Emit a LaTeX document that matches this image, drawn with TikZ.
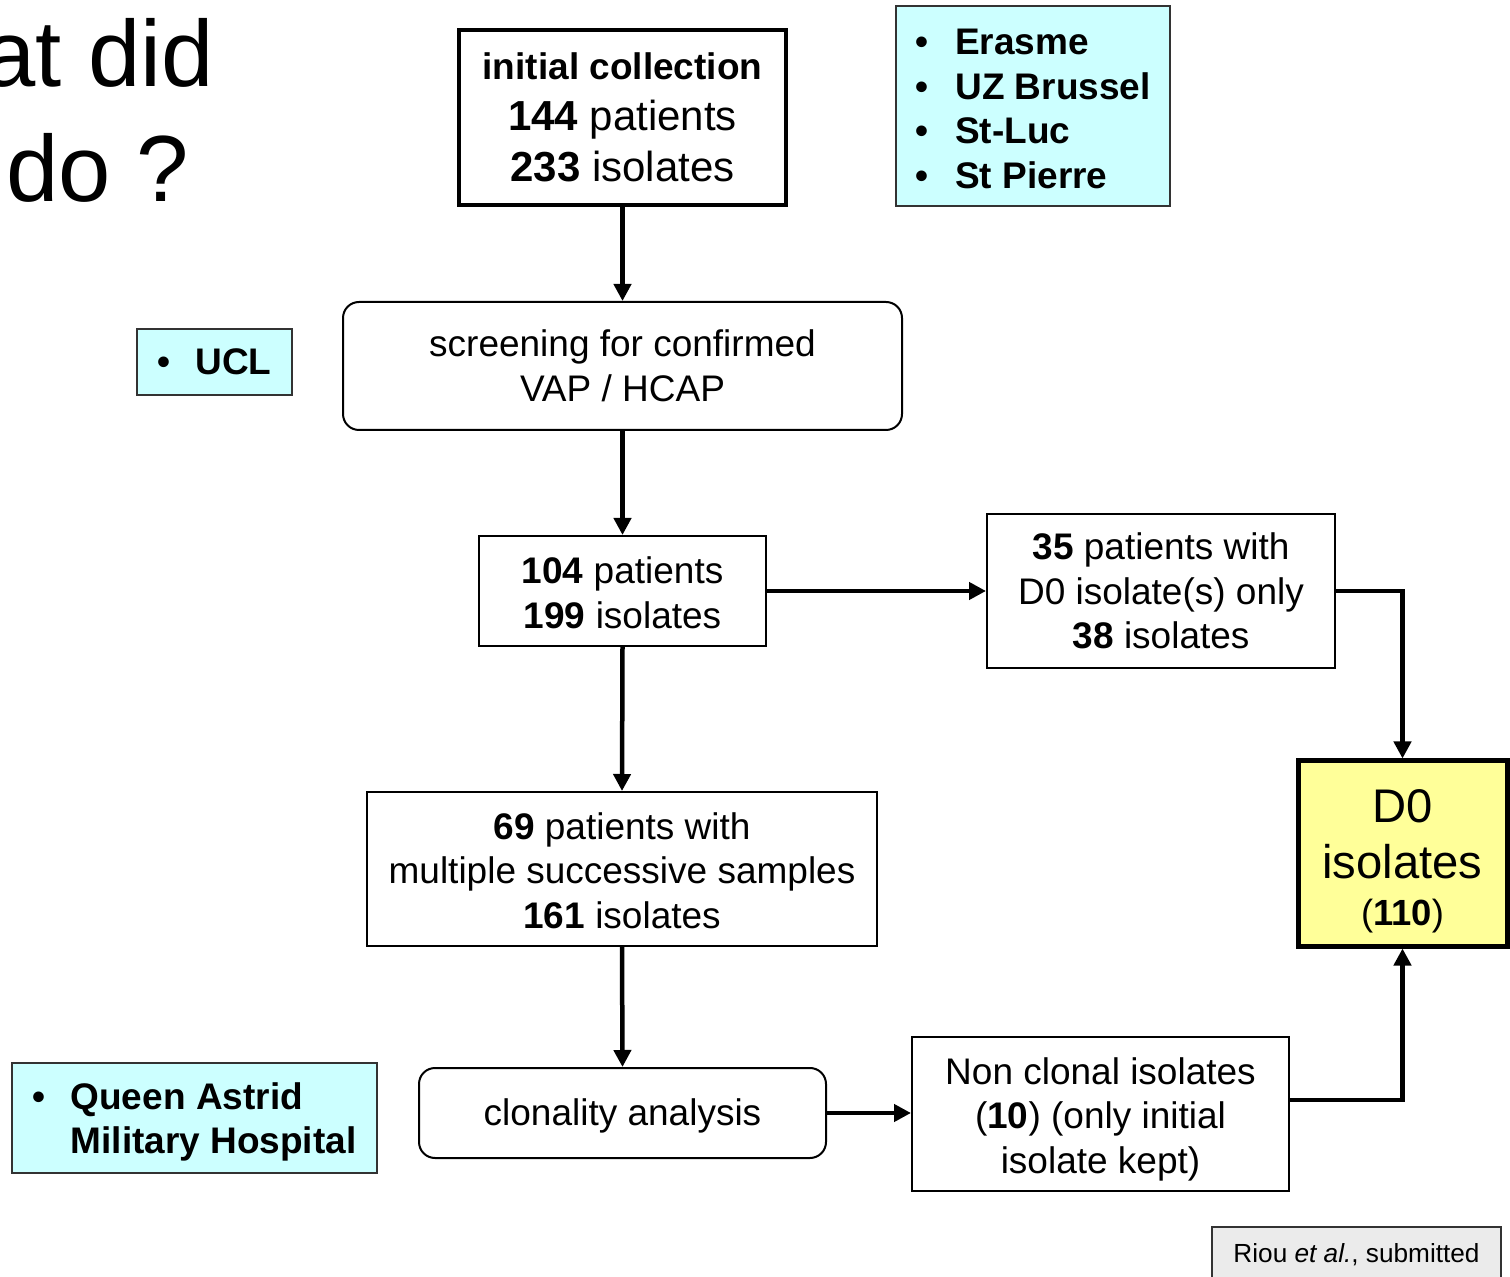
\documentclass[tikz,border=0pt]{standalone}
\usepackage{fontspec}
\setmainfont{Liberation Sans}
\usetikzlibrary{arrows.meta}
\definecolor{cyanfill}{HTML}{CCFFFF}
\definecolor{yellowfill}{HTML}{FFFF99}
\definecolor{greyfill}{HTML}{EBEBEB}
\definecolor{edgegrey}{HTML}{333333}
\begin{document}
\begin{tikzpicture}[x=0.5pt,y=-0.5pt,
  txt/.style={font=\fontsize{18.5}{22.3}\selectfont, align=center},
  plainbox/.style={draw=black, line width=1pt, fill=white, inner sep=0pt, txt},
  roundbox/.style={plainbox, rounded corners=8pt},
  thickbox/.style={draw=black, line width=2pt, fill=white, inner sep=0pt, txt},
  listbox/.style={draw=edgegrey, line width=0.8pt, fill=cyanfill, inner sep=0pt,
    font=\fontsize{18.5}{22.3}\selectfont\bfseries, align=left},
  flow/.style={line width=2.25pt, -{Triangle[length=8.5pt,width=8.5pt]}},
  title/.style={font=\fontsize{47}{56}\selectfont, inner sep=0pt},
]
\useasboundingbox (0,0) rectangle (1510,1277);

% title (cut off at the left edge)
\node[title, anchor=base east] (title1) at (214,87) {at did};
\node[title, anchor=base west] (title2) at (6,202) {do ?};

% boxes
\node[thickbox, minimum width=163.5pt, minimum height=87.5pt,
  font=\fontsize{21}{25.5}\selectfont] (init) at (622.5,117.5)
  {{\fontsize{18.5}{22}\selectfont\bfseries initial collection}\\
   \textbf{144} patients\\ \textbf{233} isolates};

\node[listbox, minimum width=137pt, minimum height=100pt] (erasme) at (1033,106)
  {\rule{0pt}{15.5pt}\makebox[20pt][l]{•}Erasme\\ \makebox[20pt][l]{•}UZ Brussel\\
   \makebox[20pt][l]{•}St-Luc\\ \makebox[20pt][l]{•}St Pierre};

\node[listbox, minimum width=77.5pt, minimum height=33pt] (ucl) at (214.5,362)
  {\makebox[19pt][l]{•}UCL};

\node[roundbox, minimum width=279.5pt, minimum height=64pt] (screen) at (622.5,366)
  {screening for confirmed\\ VAP / HCAP};

\node[plainbox, minimum width=143.5pt, minimum height=55pt] (p104) at (622.5,591)
  {\rule{0pt}{15pt}\textbf{104} patients\\ \textbf{199} isolates};

\node[plainbox, minimum width=174pt, minimum height=77pt] (p35) at (1161,591)
  {\textbf{35} patients with\\ D0 isolate(s) only\\ \textbf{38} isolates};

\node[plainbox, minimum width=255pt, minimum height=77pt] (p69) at (622,869)
  {\rule{0pt}{15pt}\textbf{69} patients with\\ multiple successive samples\\ \textbf{161} isolates};

\node[draw=black, line width=2.5pt, fill=yellowfill, inner sep=0pt, align=center,
  font=\fontsize{23.6}{28}\selectfont, minimum width=104.5pt, minimum height=92.5pt]
  (d0) at (1402.5,853.5)
  {\rule{0pt}{24.2pt}D0\\ isolates\\[-4.5pt] {\fontsize{18.2}{22}\selectfont(\textbf{110})}};

\node[roundbox, minimum width=203.5pt, minimum height=45pt] (clon) at (622.5,1113)
  {\rule{0pt}{16pt}clonality analysis};

\node[plainbox, minimum width=188.5pt, minimum height=77pt] (nonclonal) at (1100.5,1114)
  {\rule{0pt}{18.5pt}Non clonal isolates\\ (\textbf{10}) (only initial\\ isolate kept)};

\node[listbox, minimum width=182.5pt, minimum height=55pt] (queen) at (194.5,1118)
  {\rule{0pt}{17.5pt}\makebox[19pt][l]{•}Queen Astrid\\ \hspace*{19pt}Military Hospital};

\node[draw=edgegrey, line width=0.8pt, fill=greyfill, inner sep=0pt,
  minimum width=144.5pt, minimum height=28pt, font=\fontsize{13.1}{15.7}\selectfont]
  (riou) at (1356.5,1255) {Riou \textit{et al.}, submitted};

% connectors
\draw[flow] (init.south) -- (screen.north);
\draw[flow] (screen.south) -- (p104.north);
\draw[flow] (p104.east) -- (p35.west);
\draw[flow] (p104.south) -- (p69.north);
\draw[flow] (p35.east) -| (d0.north);
\draw[flow] (p69.south) -- (clon.north);
\draw[flow] (clon.east) -- (clon.east -| nonclonal.west);
\coordinate (ncout) at ([yshift=7pt]nonclonal.east);
\draw[flow] (ncout) -| (d0.south);
\end{tikzpicture}
\end{document}
